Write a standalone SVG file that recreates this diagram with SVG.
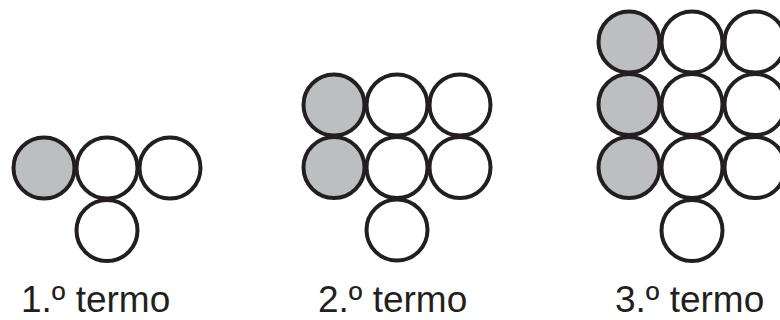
<svg xmlns="http://www.w3.org/2000/svg" width="780" height="320" viewBox="0 0 780 320">
<style>
.c{fill:#ffffff;stroke:#231f20;stroke-width:4}
.g{fill:#bcbec0;stroke:#231f20;stroke-width:4}
.t{font-family:"Liberation Sans",Arial,sans-serif;font-size:37px;fill:#231f20}
</style>
<rect width="780" height="320" fill="#ffffff"/>
<g id="termo1">
<circle class="g" cx="44" cy="168" r="30.5"/>
<circle class="c" cx="107" cy="168" r="30.5"/>
<circle class="c" cx="170" cy="168" r="30.5"/>
<circle class="c" cx="107" cy="230.5" r="30.5"/>
<text class="t" x="21" y="312">1.º termo</text>
</g>
<g id="termo2">
<circle class="g" cx="334" cy="105" r="30.5"/>
<circle class="c" cx="397" cy="105" r="30.5"/>
<circle class="c" cx="460" cy="105" r="30.5"/>
<circle class="g" cx="334" cy="167.5" r="30.5"/>
<circle class="c" cx="397" cy="167.5" r="30.5"/>
<circle class="c" cx="460" cy="167.5" r="30.5"/>
<circle class="c" cx="397" cy="230" r="30.5"/>
<text class="t" x="318" y="312">2.º termo</text>
</g>
<g id="termo3">
<circle class="g" cx="629" cy="42" r="30.5"/>
<circle class="c" cx="692" cy="42" r="30.5"/>
<circle class="c" cx="755" cy="42" r="30.5"/>
<circle class="g" cx="629" cy="104.5" r="30.5"/>
<circle class="c" cx="692" cy="104.5" r="30.5"/>
<circle class="c" cx="755" cy="104.5" r="30.5"/>
<circle class="g" cx="629" cy="167.5" r="30.5"/>
<circle class="c" cx="692" cy="167.5" r="30.5"/>
<circle class="c" cx="755" cy="167.5" r="30.5"/>
<circle class="c" cx="692" cy="230.5" r="30.5"/>
<text class="t" x="615" y="312">3.º termo</text>
</g>
<g id="connectors"/>
</svg>
